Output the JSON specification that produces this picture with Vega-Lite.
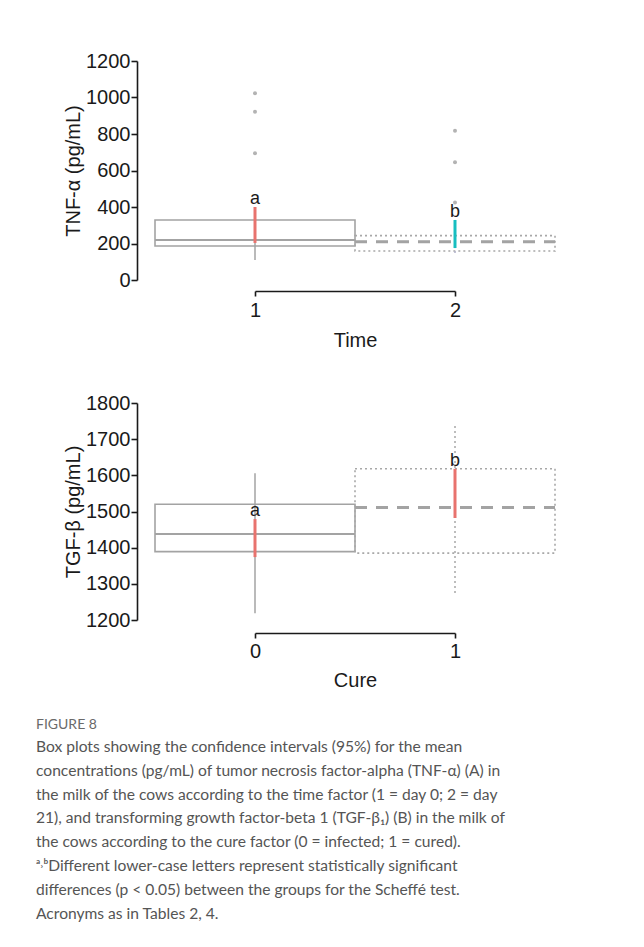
{
  "$schema": "https://vega.github.io/schema/vega-lite/v6.json",
  "background": "white",
  "padding": {"left": 36, "top": 51, "right": 5, "bottom": 5},
  "bounds": "flush",
  "spacing": 123,
  "config": {
    "view": {"stroke": null},
    "font": "Liberation Sans",
    "axis": {
      "grid": false,
      "domainColor": "#1a1a1a",
      "domainWidth": 1.6,
      "tickColor": "#1a1a1a",
      "tickWidth": 1.6,
      "labelFont": "Liberation Sans",
      "labelFontSize": 20,
      "labelColor": "#1a1a1a",
      "labelOverlap": false,
      "titleFont": "Liberation Sans",
      "titleFontSize": 20,
      "titleFontWeight": "normal",
      "titleColor": "#1a1a1a"
    }
  },
  "datasets": {
    "tnf": [
      {"g": 1, "q1": 186, "q3": 329, "med": 219, "wlo": 110, "whi": 395, "cilo": 203, "cihi": 400, "sig": "a"},
      {"g": 2, "q1": 159, "q3": 243, "med": 210, "wlo": 148, "whi": 300, "cilo": 175, "cihi": 329, "sig": "b"}
    ],
    "tnf_out": [
      {"g": 1, "v": 1023}, {"g": 1, "v": 922}, {"g": 1, "v": 694},
      {"g": 2, "v": 818}, {"g": 2, "v": 645}, {"g": 2, "v": 424}
    ],
    "tgf": [
      {"g": 0, "q1": 1389, "q3": 1520, "med": 1438, "wlo": 1219, "whi": 1606, "cilo": 1374, "cihi": 1479, "sig": "a"},
      {"g": 1, "q1": 1385, "q3": 1618, "med": 1511, "wlo": 1275, "whi": 1745, "cilo": 1482, "cihi": 1618, "sig": "b"}
    ]
  },
  "vconcat": [
    {
      "width": 200,
      "height": 219,
      "data": {"name": "tnf"},
      "encoding": {
        "x": {
          "field": "g", "type": "quantitative",
          "scale": {"domain": [1, 2], "nice": false, "zero": false},
          "axis": {"title": "Time", "values": [1, 2], "format": "d", "offset": 11, "tickSize": 5, "labelPadding": 4, "titlePadding": 10, "labelFlush": false}
        }
      },
      "layer": [
        {
          "transform": [{"filter": "datum.g == 1"}],
          "mark": {"type": "rect", "filled": false, "stroke": "#a3a3a3", "strokeWidth": 1.6, "xOffset": -100, "x2Offset": 100},
          "encoding": {
            "x2": {"field": "g"},
            "y": {"field": "q1", "type": "quantitative", "title": "TNF-α (pg/mL)",
              "scale": {"domain": [0, 1200], "nice": false, "zero": false},
              "axis": {"values": [0, 200, 400, 600, 800, 1000, 1200], "format": "d", "offset": 118, "tickSize": 6, "labelPadding": 1, "titlePadding": 2}},
            "y2": {"field": "q3"}
          }
        },
        {
          "transform": [{"filter": "datum.g == 2"}],
          "mark": {"type": "rect", "filled": false, "stroke": "#a8a8a8", "strokeWidth": 1.6, "strokeDash": [2, 3], "xOffset": -100, "x2Offset": 100},
          "encoding": {
            "x2": {"field": "g"},
            "y": {"field": "q1", "type": "quantitative", "title": "TNF-α (pg/mL)",
              "axis": {"values": [0, 200, 400, 600, 800, 1000, 1200], "format": "d", "offset": 118, "tickSize": 6, "labelPadding": 1, "titlePadding": 2}},
            "y2": {"field": "q3"}
          }
        },
        {
          "transform": [{"filter": "datum.g == 1"}],
          "mark": {"type": "rule", "stroke": "#a3a3a3", "strokeWidth": 2, "xOffset": -100, "x2Offset": 100},
          "encoding": {
            "x2": {"field": "g"},
            "y": {"field": "med", "type": "quantitative", "title": "TNF-α (pg/mL)",
              "axis": {"values": [0, 200, 400, 600, 800, 1000, 1200], "format": "d", "offset": 118, "tickSize": 6, "labelPadding": 1, "titlePadding": 2}}
          }
        },
        {
          "transform": [{"filter": "datum.g == 2"}],
          "mark": {"type": "rule", "stroke": "#a3a3a3", "strokeWidth": 3, "strokeDash": [12, 9], "xOffset": -100, "x2Offset": 100},
          "encoding": {
            "x2": {"field": "g"},
            "y": {"field": "med", "type": "quantitative", "title": "TNF-α (pg/mL)",
              "axis": {"values": [0, 200, 400, 600, 800, 1000, 1200], "format": "d", "offset": 118, "tickSize": 6, "labelPadding": 1, "titlePadding": 2}}
          }
        },
        {
          "transform": [{"filter": "datum.g == 1"}],
          "mark": {"type": "rule", "stroke": "#a3a3a3", "strokeWidth": 1.5},
          "encoding": {
            "y": {"field": "wlo", "type": "quantitative", "title": "TNF-α (pg/mL)",
              "axis": {"values": [0, 200, 400, 600, 800, 1000, 1200], "format": "d", "offset": 118, "tickSize": 6, "labelPadding": 1, "titlePadding": 2}},
            "y2": {"field": "whi"}
          }
        },
        {
          "transform": [{"filter": "datum.g == 2"}],
          "mark": {"type": "rule", "stroke": "#b0b0c8", "strokeWidth": 1.5, "strokeDash": [2, 3]},
          "encoding": {
            "y": {"field": "wlo", "type": "quantitative", "title": "TNF-α (pg/mL)",
              "axis": {"values": [0, 200, 400, 600, 800, 1000, 1200], "format": "d", "offset": 118, "tickSize": 6, "labelPadding": 1, "titlePadding": 2}},
            "y2": {"field": "whi"}
          }
        },
        {
          "data": {"name": "tnf_out"},
          "mark": {"type": "circle", "size": 16, "color": "#b3b3b3", "opacity": 1},
          "encoding": {
            "y": {"field": "v", "type": "quantitative", "title": "TNF-α (pg/mL)",
              "axis": {"values": [0, 200, 400, 600, 800, 1000, 1200], "format": "d", "offset": 118, "tickSize": 6, "labelPadding": 1, "titlePadding": 2}}
          }
        },
        {
          "mark": {"type": "rule", "strokeWidth": 3},
          "encoding": {
            "y": {"field": "cilo", "type": "quantitative", "title": "TNF-α (pg/mL)",
              "axis": {"values": [0, 200, 400, 600, 800, 1000, 1200], "format": "d", "offset": 118, "tickSize": 6, "labelPadding": 1, "titlePadding": 2}},
            "y2": {"field": "cihi"},
            "color": {"field": "g", "type": "nominal", "scale": {"domain": [1, 2], "range": ["#E8736E", "#17BEC0"]}, "legend": null}
          }
        },
        {
          "mark": {"type": "text", "baseline": "middle", "dy": -8, "fontSize": 18, "color": "#1a1a1a"},
          "encoding": {
            "y": {"field": "cihi", "type": "quantitative", "title": "TNF-α (pg/mL)",
              "axis": {"values": [0, 200, 400, 600, 800, 1000, 1200], "format": "d", "offset": 118, "tickSize": 6, "labelPadding": 1, "titlePadding": 2}},
            "text": {"field": "sig"}
          }
        }
      ]
    },
    {
      "width": 200,
      "height": 217,
      "data": {"name": "tgf"},
      "title": {
        "text": "FIGURE 8",
        "subtitle": [
          "Box plots showing the confidence intervals (95%) for the mean",
          "concentrations (pg/mL) of tumor necrosis factor-alpha (TNF-α) (A) in",
          "the milk of the cows according to the time factor (1 = day 0; 2 = day",
          "21), and transforming growth factor-beta 1 (TGF-β₁) (B) in the milk of",
          "the cows according to the cure factor (0 = infected; 1 = cured).",
          "ᵃ˒ᵇDifferent lower-case letters represent statistically significant",
          "differences (p < 0.05) between the groups for the Scheffé test.",
          "Acronyms as in Tables 2, 4."
        ],
        "orient": "bottom",
        "anchor": "start",
        "frame": "group",
        "dx": -219,
        "offset": 28,
        "font": "Lato",
        "fontSize": 14,
        "fontWeight": "normal",
        "color": "#6a6a6a",
        "subtitleFont": "Lato",
        "subtitleFontSize": 15.6,
        "subtitleColor": "#555555",
        "subtitleLineHeight": 23.8,
        "subtitlePadding": 8
      },
      "encoding": {
        "x": {
          "field": "g", "type": "quantitative",
          "scale": {"domain": [0, 1], "nice": false, "zero": false},
          "axis": {"title": "Cure", "values": [0, 1], "format": "d", "offset": 13, "tickSize": 5, "labelPadding": 3, "titlePadding": 9, "labelFlush": false}
        }
      },
      "layer": [
        {
          "transform": [{"filter": "datum.g == 0"}],
          "mark": {"type": "rect", "filled": false, "stroke": "#a3a3a3", "strokeWidth": 1.6, "xOffset": -100, "x2Offset": 100},
          "encoding": {
            "x2": {"field": "g"},
            "y": {"field": "q1", "type": "quantitative", "title": "TGF-β (pg/mL)",
              "scale": {"domain": [1200, 1800], "nice": false, "zero": false},
              "axis": {"values": [1200, 1300, 1400, 1500, 1600, 1700, 1800], "format": "d", "offset": 118, "tickSize": 6, "labelPadding": 1, "titlePadding": 2}},
            "y2": {"field": "q3"}
          }
        },
        {
          "transform": [{"filter": "datum.g == 1"}],
          "mark": {"type": "rect", "filled": false, "stroke": "#a8a8a8", "strokeWidth": 1.6, "strokeDash": [2, 3], "xOffset": -100, "x2Offset": 100},
          "encoding": {
            "x2": {"field": "g"},
            "y": {"field": "q1", "type": "quantitative", "title": "TGF-β (pg/mL)",
              "axis": {"values": [1200, 1300, 1400, 1500, 1600, 1700, 1800], "format": "d", "offset": 118, "tickSize": 6, "labelPadding": 1, "titlePadding": 2}},
            "y2": {"field": "q3"}
          }
        },
        {
          "transform": [{"filter": "datum.g == 0"}],
          "mark": {"type": "rule", "stroke": "#a3a3a3", "strokeWidth": 2, "xOffset": -100, "x2Offset": 100},
          "encoding": {
            "x2": {"field": "g"},
            "y": {"field": "med", "type": "quantitative", "title": "TGF-β (pg/mL)",
              "axis": {"values": [1200, 1300, 1400, 1500, 1600, 1700, 1800], "format": "d", "offset": 118, "tickSize": 6, "labelPadding": 1, "titlePadding": 2}}
          }
        },
        {
          "transform": [{"filter": "datum.g == 1"}],
          "mark": {"type": "rule", "stroke": "#a3a3a3", "strokeWidth": 3, "strokeDash": [12, 9], "xOffset": -100, "x2Offset": 100},
          "encoding": {
            "x2": {"field": "g"},
            "y": {"field": "med", "type": "quantitative", "title": "TGF-β (pg/mL)",
              "axis": {"values": [1200, 1300, 1400, 1500, 1600, 1700, 1800], "format": "d", "offset": 118, "tickSize": 6, "labelPadding": 1, "titlePadding": 2}}
          }
        },
        {
          "transform": [{"filter": "datum.g == 0"}],
          "mark": {"type": "rule", "stroke": "#a3a3a3", "strokeWidth": 1.5},
          "encoding": {
            "y": {"field": "wlo", "type": "quantitative", "title": "TGF-β (pg/mL)",
              "axis": {"values": [1200, 1300, 1400, 1500, 1600, 1700, 1800], "format": "d", "offset": 118, "tickSize": 6, "labelPadding": 1, "titlePadding": 2}},
            "y2": {"field": "whi"}
          }
        },
        {
          "transform": [{"filter": "datum.g == 1"}],
          "mark": {"type": "rule", "stroke": "#a8a8a8", "strokeWidth": 1.5, "strokeDash": [2, 3]},
          "encoding": {
            "y": {"field": "wlo", "type": "quantitative", "title": "TGF-β (pg/mL)",
              "axis": {"values": [1200, 1300, 1400, 1500, 1600, 1700, 1800], "format": "d", "offset": 118, "tickSize": 6, "labelPadding": 1, "titlePadding": 2}},
            "y2": {"field": "whi"}
          }
        },
        {
          "mark": {"type": "rule", "strokeWidth": 3},
          "encoding": {
            "y": {"field": "cilo", "type": "quantitative", "title": "TGF-β (pg/mL)",
              "axis": {"values": [1200, 1300, 1400, 1500, 1600, 1700, 1800], "format": "d", "offset": 118, "tickSize": 6, "labelPadding": 1, "titlePadding": 2}},
            "y2": {"field": "cihi"},
            "color": {"field": "g", "type": "nominal", "scale": {"domain": [0, 1], "range": ["#E8736E", "#17BEC0"]}, "legend": null}
          }
        },
        {
          "mark": {"type": "text", "baseline": "middle", "dy": -8, "fontSize": 18, "color": "#1a1a1a"},
          "encoding": {
            "y": {"field": "cihi", "type": "quantitative", "title": "TGF-β (pg/mL)",
              "axis": {"values": [1200, 1300, 1400, 1500, 1600, 1700, 1800], "format": "d", "offset": 118, "tickSize": 6, "labelPadding": 1, "titlePadding": 2}},
            "text": {"field": "sig"}
          }
        }
      ]
    }
  ]
}
